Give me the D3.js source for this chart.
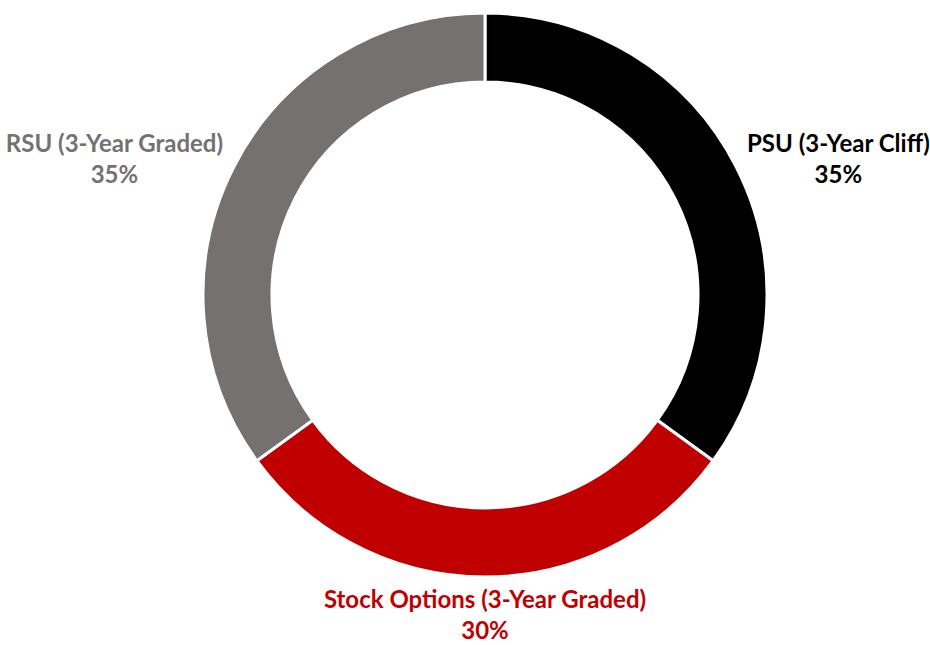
<!DOCTYPE html>
<meta charset="utf-8">
<style>
    body { margin: 0; background: #fff; }
    .chart text {
        font-family: Lato, "Open Sans", sans-serif;
        font-weight: bold;
        font-size: 24px;
    }
</style>
<svg class="chart"></svg>
<script src="https://cdn.jsdelivr.net/npm/d3@7"></script>
<script>

    var categories = ["PSU (3-Year Cliff)", "Stock Options (3-Year Graded)", "RSU (3-Year Graded)"];
    var values = [35, 30, 35];
    var colors = ["#000000", "#c00000", "#767171"];

    var width = 930,
        height = 645,
        cx = 485,
        cy = 295,
        outer = 282,
        inner = 213;

    var data = categories.map(function(c, i) {
        return { name: c, value: values[i], color: colors[i] };
    });

    var chart = d3.select(".chart")
        .attr("width", width)
        .attr("height", height);

    var pie = d3.pie()
        .sort(null)
        .value(function(d) { return d.value; });

    var arc = d3.arc()
        .innerRadius(inner)
        .outerRadius(outer);

    var g = chart.append("g")
        .attr("transform", "translate(" + cx + "," + cy + ")");

    var slices = pie(data);

    g.selectAll("path")
        .data(slices)
        .enter().append("path")
        .attr("d", arc)
        .attr("fill", function(d) { return d.data.color; })
        .attr("stroke", "#fff")
        .attr("stroke-width", 3);

    // labels just outside the ring, anchored away from it
    var labelR = outer + 12;
    var label = g.selectAll("text")
        .data(slices)
        .enter().append("text")
        .attr("fill", function(d) { return d.data.color; })
        .attr("text-anchor", function(d) {
            var s = Math.sin((d.startAngle + d.endAngle) / 2);
            return s > 0.3 ? "start" : s < -0.3 ? "end" : "middle";
        })
        .attr("transform", function(d) {
            var a = (d.startAngle + d.endAngle) / 2,
                c = Math.cos(a);
            var x = labelR * Math.sin(a),
                y = -labelR * c - c * c * c * 26;
            return "translate(" + x + "," + y + ")";
        });

    label.append("tspan")
        .attr("x", 0)
        .attr("y", -7.5)
        .text(function(d) { return d.data.name; });

    label.append("tspan")
        .attr("x", 0)
        .attr("y", 23.5)
        .text(function(d) { return d.data.value + "%"; });

    // centre the percentage under the name
    label.each(function() {
        var t = d3.select(this),
            w = t.select("tspan").node().getComputedTextLength(),
            anchor = t.attr("text-anchor"),
            mid = anchor === "start" ? w / 2 : anchor === "end" ? -w / 2 : 0;
        t.selectAll("tspan").attr("text-anchor", "middle").attr("x", mid);
    });

</script>
